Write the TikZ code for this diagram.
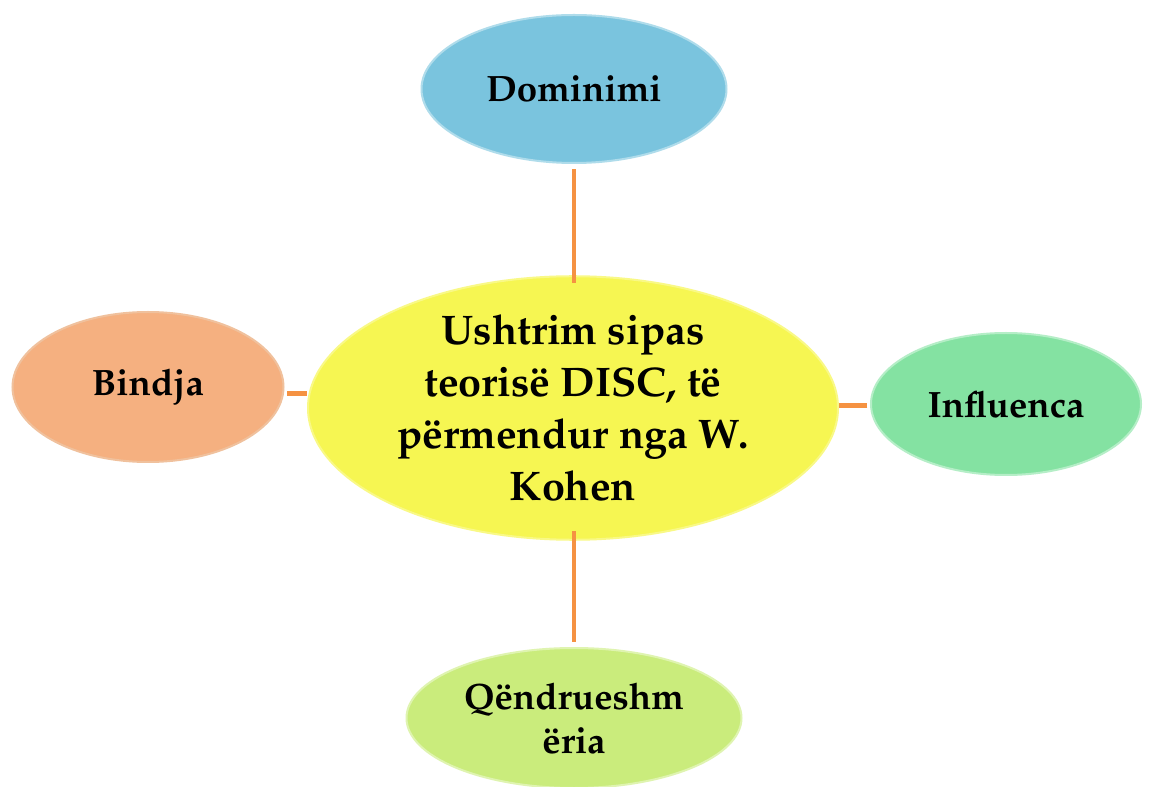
\documentclass[tikz,border=0pt]{standalone}
\usepackage[T1]{fontenc}
\usepackage{mathpazo}
\usetikzlibrary{shapes.geometric}
\definecolor{cblue}{RGB}{122,196,222}
\definecolor{corange}{RGB}{245,176,128}
\definecolor{cgreen}{RGB}{132,226,162}
\definecolor{clime}{RGB}{202,236,124}
\definecolor{cyellow}{RGB}{246,246,82}
\definecolor{cline}{RGB}{245,146,66}
\tikzset{
  bubble/.style={ellipse, inner sep=0pt, align=center, font=\bfseries\fontsize{27.5}{33}\selectfont, line width=1.5pt},
  centerbubble/.style={bubble, font=\bfseries\fontsize{31}{39}\selectfont},
  link/.style={draw=cline, line width=3.3pt}
}
\begin{document}
\begin{tikzpicture}[x=0.75pt,y=-0.75pt]
\useasboundingbox (0,0) rectangle (1153,787);
\fill[white] (0,0) rectangle (1153,787);
\node[centerbubble, fill=cyellow, draw=cyellow!70!white, minimum width=530*0.75pt, minimum height=245*0.75pt] (c) at (573,408) {Ushtrim sipas\\teoris\"e DISC, t\"e\\p\"ermendur nga W.\\Kohen};
\node[bubble, fill=cblue, draw=cblue!60!white, minimum width=305*0.75pt, minimum height=148*0.75pt] (d) at (574,89) {Dominimi};
\node[bubble, fill=corange, draw=corange!80!brown!70!white, minimum width=271*0.75pt, minimum height=150*0.75pt] (b) at (148,387) {Bindja};
\node[bubble, fill=cgreen, draw=cgreen!60!white, minimum width=270*0.75pt, minimum height=142*0.75pt] (i) at (1006,404) {Influenca};
\node[bubble, fill=clime, draw=clime!60!white, minimum width=335*0.75pt, minimum height=140*0.75pt] (q) at (574,718) {Q\"endrueshm\\\"eria};
\coordinate (ct) at (574,283);
\coordinate (cb) at (574,531);
\coordinate (bl) at ([xshift=2pt,yshift=-5pt]b.east);
\coordinate (il) at ([xshift=-2pt,yshift=-1pt]i.west);
\draw[link] ([yshift=-4pt]d.south) -- (ct);
\draw[link] ([yshift=4pt]q.north) -- (cb);
\draw[link] (bl) -- (bl -| c.west);
\draw[link] (il) -- (il -| c.east);
\end{tikzpicture}
\end{document}
